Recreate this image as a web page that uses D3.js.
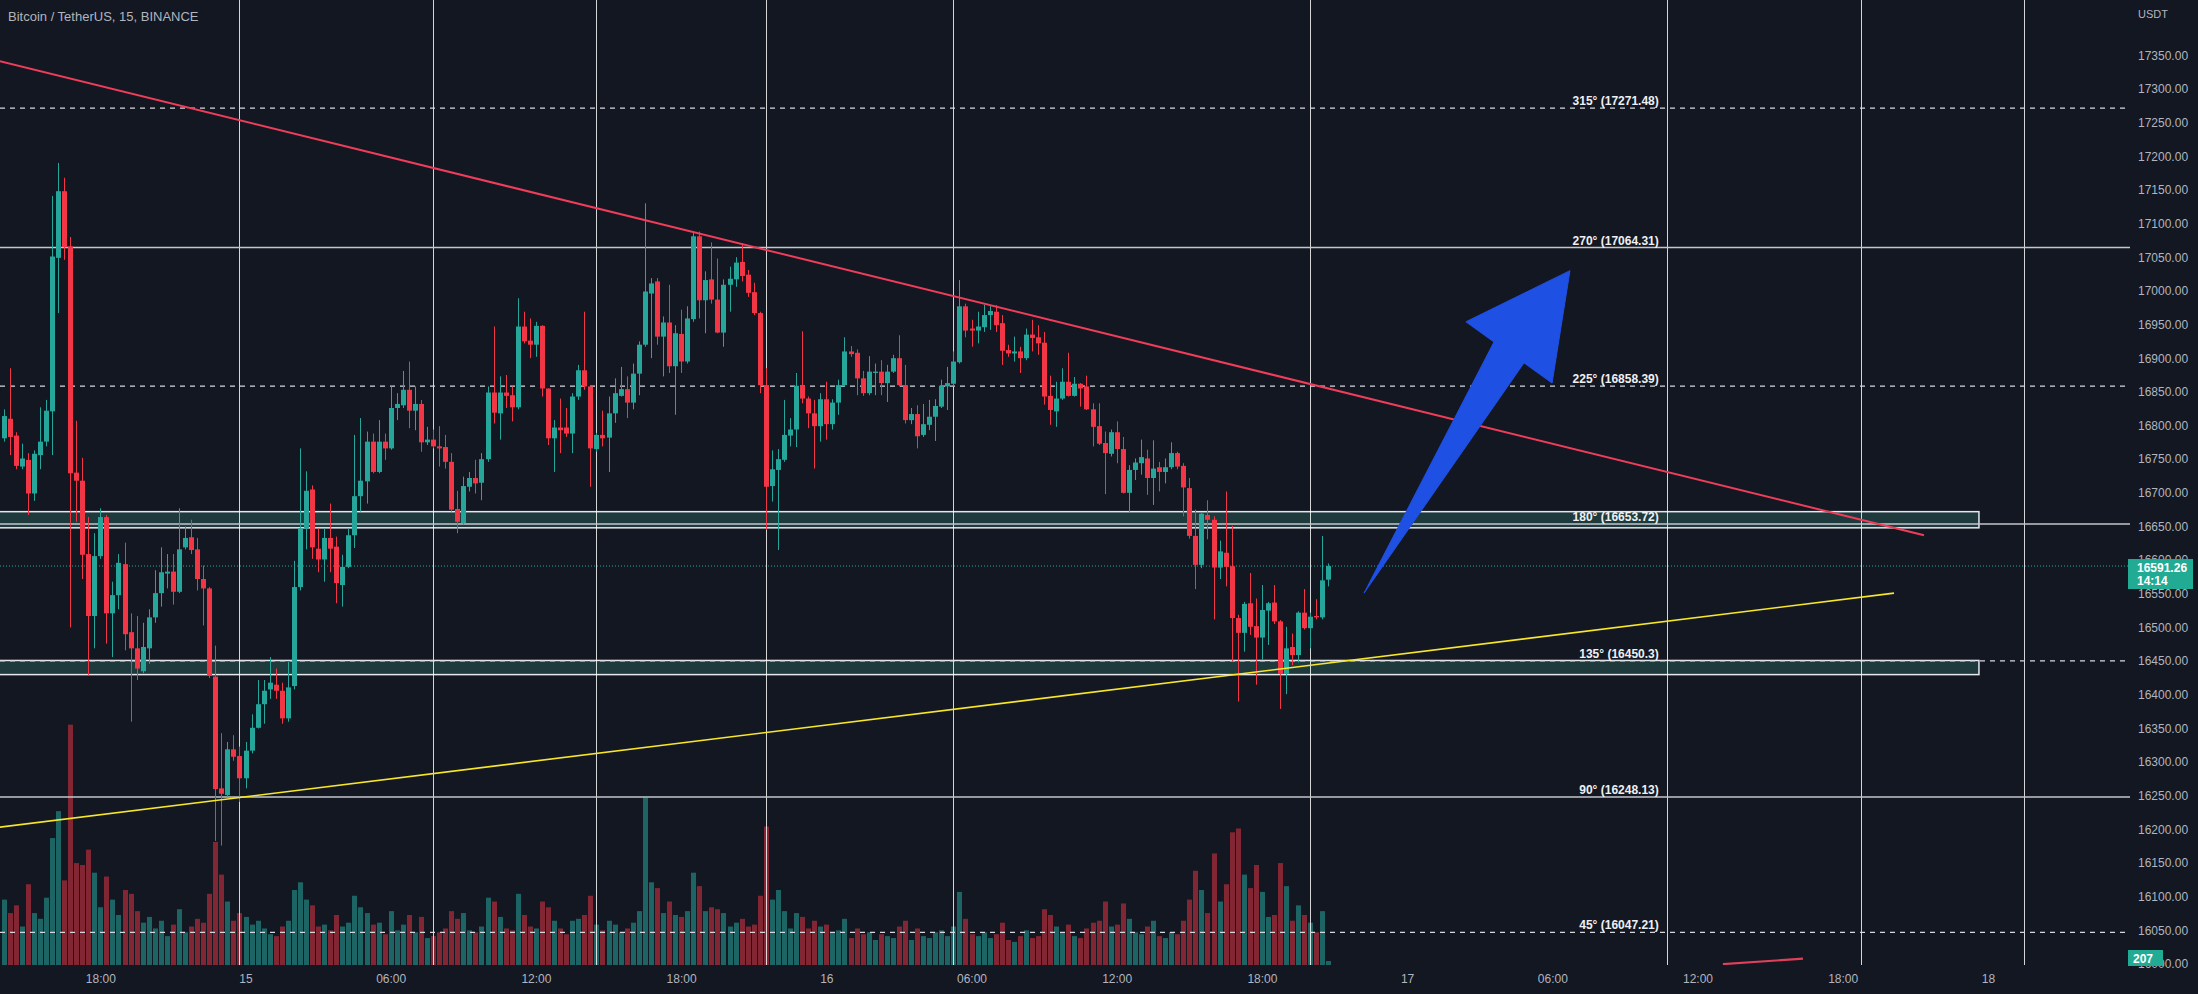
<!DOCTYPE html>
<html><head><meta charset="utf-8">
<script src="https://cdn.jsdelivr.net/npm/d3@7"></script>
<style>
html,body{margin:0;padding:0;background:#131722;overflow:hidden}
svg{display:block}
text{font-family:"Liberation Sans",Arial,sans-serif}
</style></head><body>
<svg id="chart" width="2198" height="994"></svg>
<script>
// ---- DATA (hours relative to 15 Dec 00:00, 15-minute bars) ----
const firstBarHour = -10.25;
const barStep = 0.25;
const open = [16793,16781,16810,16785,16739,16749,16699,16756,16776,16821,17049,17148,17066,16730,16718,16609,16517,16606,16664,16521,16548,16594,16493,16469,16435,16469,16515,16551,16580,16583,16553,16619,16634,16616,16572,16558,16427,16261,16251,16319,16309,16276,16317,16351,16386,16408,16415,16406,16365,16413,16560,16647,16705,16617,16601,16633,
16620,16563,16590,16637,16695,16717,16776,16731,16776,16766,16826,16830,16853,16822,16832,16775,16779,16769,16768,16746,16676,16655,16709,16722,16715,16750,16849,16818,16849,16845,16827,16947,16926,16920,16948,16855,16781,16797,16797,16788,16843,16882,16858,16765,16786,16782,16818,16844,16854,16834,16877,16920,16996,17014,16932,16953,16888,16936,16895,16958,17081,16986,17017,16987,16938,17009,17017,17043,17024,16998,16967,16860,16710,16734,16749,16785,16794,16859,16840,16818,16799,16839,16802,16834,16860,16910,16908,16870,16848,16878,16880,16863,16880,16900,16860,16808,16817,16786,16801,16813,16828,16858,16862,16894,16977,16944,16941,16946,16964,16969,16952,16912,16907,16910,16900,16935,16931,16923,16844,16821,16840,16865,16844,16862,16858,16824,16799,16774,16758,16790,16765,16700,16734,16744,16751,16722,16738,16731,16738,16759,16740,16707,16636,16593,16667,16660,16589,16611,16591,16514,16492,16536,16502,16485,16525,16537,16509,16431,16471,16459,16522,16499,16517,16515,16571];
const high = [16800,16824,16885,16790,16773,16759,16763,16827,16838,17141,17190,17168,17080,16807,16752,16664,16640,16677,16667,16568,16609,16626,16521,16517,16507,16527,16585,16619,16609,16609,16677,16650,16660,16633,16592,16560,16473,16343,16330,16340,16323,16330,16371,16422,16422,16456,16439,16418,16449,16599,16766,16732,16711,16647,16647,16684,
16635,16608,16647,16786,16811,16791,16788,16808,16788,16858,16848,16881,16895,16858,16838,16798,16794,16799,16786,16759,16703,16724,16731,16749,16759,16858,16947,16873,16875,16858,16989,16969,16959,16954,16949,16855,16808,16840,16826,16848,16890,16969,16858,16789,16822,16843,16870,16887,16873,16892,16925,17130,17019,17019,16962,17009,16949,16972,16977,17088,17088,17029,17072,17048,17017,17036,17050,17071,17031,17012,16969,16885,16763,16765,16838,16811,16878,16940,16843,16838,16848,16865,16839,16868,16931,16918,16913,16881,16903,16892,16897,16890,16905,16934,16890,16826,16830,16832,16838,16839,16868,16887,16910,17016,16981,16957,16969,16979,16978,16979,16964,16920,16932,16917,16944,16957,16949,16939,16874,16865,16885,16908,16872,16863,16874,16833,16833,16791,16794,16806,16783,16741,16751,16779,16764,16778,16746,16751,16775,16761,16744,16722,16675,16671,16689,16665,16629,16702,16651,16519,16538,16581,16543,16563,16538,16563,16511,16501,16491,16524,16557,16522,16542,16636,16595];
const low = [16773,16776,16756,16735,16735,16667,16688,16735,16769,16756,16967,17046,16500,16657,16572,16428,16469,16602,16476,16456,16527,16466,16360,16422,16432,16446,16507,16531,16558,16534,16551,16616,16609,16555,16503,16425,16183,16176,16248,16302,16241,16261,16313,16350,16357,16394,16394,16357,16360,16408,16555,16616,16602,16582,16568,16582,
16536,16531,16588,16618,16672,16684,16729,16729,16749,16764,16808,16826,16796,16793,16761,16771,16766,16739,16736,16672,16640,16652,16702,16699,16689,16746,16803,16779,16826,16806,16824,16922,16900,16902,16843,16771,16731,16759,16783,16759,16838,16853,16709,16761,16769,16731,16804,16843,16811,16824,16845,16917,16900,16920,16873,16878,16816,16878,16892,16954,16959,16937,16981,16937,16917,16969,17006,17014,16991,16964,16848,16645,16687,16615,16746,16769,16768,16833,16796,16736,16776,16779,16794,16816,16858,16902,16845,16844,16845,16845,16845,16835,16878,16858,16803,16802,16766,16783,16793,16777,16826,16823,16858,16892,16931,16917,16922,16939,16942,16939,16890,16902,16895,16878,16897,16910,16905,16831,16801,16798,16838,16843,16843,16828,16823,16769,16771,16698,16754,16744,16699,16671,16719,16727,16697,16682,16702,16714,16735,16735,16665,16632,16557,16588,16631,16512,16572,16561,16449,16390,16464,16489,16415,16452,16474,16505,16379,16401,16444,16448,16497,16469,16512,16512,16561];
const close = [16781,16814,16783,16740,16751,16699,16758,16776,16822,17051,17148,17065,16729,16718,16608,16517,16606,16664,16521,16548,16596,16490,16469,16439,16471,16515,16551,16582,16583,16553,16616,16633,16615,16572,16558,16428,16260,16253,16319,16308,16276,16317,16351,16386,16406,16418,16406,16365,16411,16560,16647,16703,16619,16601,16633,16617,
16566,16590,16637,16695,16718,16776,16731,16776,16766,16826,16832,16853,16822,16832,16775,16779,16769,16766,16746,16675,16657,16710,16722,16714,16750,16849,16819,16849,16844,16827,16947,16925,16920,16948,16855,16781,16797,16793,16788,16843,16882,16858,16766,16786,16781,16818,16848,16854,16834,16877,16920,16999,17011,16932,16953,16888,16937,16895,16959,17081,16986,17016,16987,16938,17009,17018,17042,17022,16997,16967,16860,16709,16735,16750,16786,16794,16859,16840,16818,16799,16839,16802,16834,16860,16910,16906,16870,16848,16880,16880,16863,16880,16900,16860,16808,16817,16784,16802,16813,16829,16859,16863,16895,16977,16941,16941,16947,16964,16970,16949,16911,16907,16910,16900,16935,16930,16922,16843,16823,16840,16865,16844,16862,16855,16824,16798,16773,16759,16790,16765,16700,16734,16745,16753,16722,16736,16731,16738,16759,16739,16708,16636,16593,16669,16660,16589,16613,16590,16514,16492,16535,16501,16485,16526,16536,16509,16431,16469,16459,16522,16499,16516,16515,16570,16591.26];
const volume = [2000,3400,2700,3100,2000,4200,2700,2400,3500,6600,8000,4400,12500,5300,5200,6000,4800,3000,4600,3400,2600,3900,3700,2800,2200,2500,1900,2300,1500,2100,2900,1700,2000,2400,2200,3700,6400,4700,3300,2300,2700,2500,2100,2300,1900,1600,1500,2000,2300,3900,4300,3400,3100,2000,2100,1800,
2600,2000,2200,3600,3000,2700,2100,2200,1600,2800,1800,2100,2600,1700,2500,1400,1500,1700,1900,2800,2400,2700,1800,1700,2000,3500,3300,2500,1900,1800,3700,2600,2000,1900,3300,3000,2300,1900,1600,2300,2400,2600,3600,2100,1800,2300,2100,1700,1900,2200,2800,8700,4300,4000,2700,3300,2600,2500,2800,4800,4100,2800,3000,2900,2700,2000,2200,2400,2000,2100,3600,7200,3400,3900,2800,1900,2700,2500,1900,2300,2000,2100,1700,1800,2400,1400,1900,1600,1700,1300,1600,1500,1400,2000,2300,1300,1900,1500,1400,1700,1800,1500,2000,3800,2400,1600,1500,1700,1400,1600,2200,1300,1200,1500,1800,1400,1500,2900,2600,2000,1700,2100,1500,1400,1900,2200,2300,3300,2000,2100,3200,2400,1700,1600,2000,2300,1500,1400,1700,1600,2300,3400,4900,3900,2700,5800,3300,4200,6900,7100,4700,4000,5200,3800,2500,2600,5300,4100,2300,3100,2600,2200,1700,2800,207];

const priceTicks = [17350,17300,17250,17200,17150,17100,17050,17000,16950,16900,16850,16800,16750,16700,16650,16600,16550,16500,16450,16400,16350,16300,16250,16200,16150,16100,16050,16000];
const timeTickHours = [-6,0,6,12,18,24,30,36,42,48,54,60,66,72];
const timeTickLabels = ["18:00","15","06:00","12:00","18:00","16","06:00","12:00","18:00","17","06:00","12:00","18:00","18"];

const levelAngles = ["315°","270°","225°","180°","135°","90°","45°"];
const levelPrices = [17271.48,17064.31,16858.39,16653.72,16450.3,16248.13,16047.21];
const levelPriceText = ["17271.48","17064.31","16858.39","16653.72","16450.3","16248.13","16047.21"];
const levelDashed = [true,false,true,false,true,false,true];
const levelLabelHour = 58.4;

const verticalLineHours = [-0.25,7.75,14.5,21.5,29.25,44,58.75,66.75,73.5];

const zoneTop = [16672,16451];
const zoneBottom = [16648,16430];
const zoneStartHour = -11, zoneEndHour = 71.63;

const redTrendHours = [-10.25,69.36];
const redTrendPrices = [17342,16637];
const yellowTrendHours = [-10.25,68.12];
const yellowTrendPrices = [16203,16551];
const arrowHours = [46.22,51.59,50.43,54.73,53.99,52.83];
const arrowPrices = [16551,16924,16954,17030,16863,16893];
const stubHours = [61.05,64.36];
const stubPrices = [16000,16008];

const lastPrice = 16591.26;
const countdown = "14:14";
const lastVolume = "207";
const title = "Bitcoin / TetherUS, 15, BINANCE";
const currency = "USDT";

// ---- CHART ----
const W = 2198, H = 994, plotW = 2130, plotH = 965;
const svg = d3.select("#chart");
const x = d3.scaleLinear().domain([-10.145, 77.872]).range([0, plotW]);
const y = d3.scaleLinear().domain([16000, 17350]).range([964.1, 55.2]);
const v = d3.scaleLinear().domain([0, 13000]).range([plotH, 715]);

const up = "#26a69a", down = "#f23645";
const bars = open.map((o, i) => ({t: firstBarHour + i * barStep, o, h: high[i], l: low[i], c: close[i], vol: volume[i]}));

svg.append("rect").attr("width", W).attr("height", H).attr("fill", "#131722");
svg.append("defs").append("clipPath").attr("id", "plot").append("rect").attr("width", plotW).attr("height", plotH);
const g = svg.append("g").attr("clip-path", "url(#plot)");

// zones
g.selectAll(".zone").data(zoneTop).join("rect")
  .attr("x", x(zoneStartHour)).attr("width", x(zoneEndHour) - x(zoneStartHour))
  .attr("y", d => y(d)).attr("height", (d, i) => y(zoneBottom[i]) - y(d))
  .attr("fill", "#1e3a3d").attr("stroke", "#e6e8ec").attr("stroke-width", 1.5);

// volume
const cx = t => Math.round(x(t));
g.selectAll(".vol").data(bars).join("rect")
  .attr("x", d => cx(d.t) - 2).attr("width", 5)
  .attr("y", d => v(d.vol)).attr("height", d => plotH - v(d.vol))
  .attr("fill", d => d.c >= d.o ? "rgba(38,166,154,0.55)" : "rgba(242,54,69,0.5)");

// vertical lines
g.selectAll(".vl").data(verticalLineHours).join("line")
  .attr("x1", d => cx(d) + 0.5).attr("x2", d => cx(d) + 0.5).attr("y1", 0).attr("y2", plotH)
  .attr("stroke", "rgba(255,255,255,0.82)").attr("stroke-width", 1);

// level lines
g.selectAll(".lvl").data(levelPrices).join("line")
  .attr("x1", 0).attr("x2", plotW).attr("y1", d => y(d)).attr("y2", d => y(d))
  .attr("stroke", (d, i) => levelDashed[i] ? "#d6d8de" : "#c4c6cc")
  .attr("stroke-width", (d, i) => levelDashed[i] ? 1.3 : 1.6)
  .attr("stroke-dasharray", (d, i) => levelDashed[i] ? "5,5" : null);

// current price line
g.append("line").attr("x1", 0).attr("x2", plotW).attr("y1", y(lastPrice)).attr("y2", y(lastPrice))
  .attr("stroke", "#26a69a").attr("stroke-width", 1).attr("stroke-dasharray", "1,2");

// candles
const cg = g.append("g");
cg.selectAll(".wick").data(bars).join("line")
  .attr("x1", d => cx(d.t) + 0.5).attr("x2", d => cx(d.t) + 0.5)
  .attr("y1", d => y(d.h)).attr("y2", d => y(d.l))
  .attr("stroke", d => d.c >= d.o ? up : down).attr("stroke-width", 1);
cg.selectAll(".body").data(bars).join("rect")
  .attr("x", d => cx(d.t) - 2).attr("width", 5)
  .attr("y", d => y(Math.max(d.o, d.c)))
  .attr("height", d => Math.max(1, Math.abs(y(d.o) - y(d.c))))
  .attr("fill", d => d.c >= d.o ? up : down);

// trend lines
const line = d3.line().x(d => x(d[0])).y(d => y(d[1]));
g.append("path").attr("d", line(d3.zip(redTrendHours, redTrendPrices)))
  .attr("stroke", "#ef3d5a").attr("stroke-width", 2).attr("fill", "none");
g.append("path").attr("d", line(d3.zip(yellowTrendHours, yellowTrendPrices)))
  .attr("stroke", "#f7e62a").attr("stroke-width", 1.6).attr("fill", "none");
g.append("path").attr("d", line(d3.zip(stubHours, stubPrices)))
  .attr("stroke", "#e0405a").attr("stroke-width", 2.2).attr("fill", "none");

// arrow
g.append("path").attr("d", line(d3.zip(arrowHours, arrowPrices)) + "Z")
  .attr("fill", "#1f50e4").attr("stroke", "#1f50e4").attr("stroke-width", 1).attr("stroke-linejoin", "round");

// level labels
g.selectAll(".lbl").data(levelPrices).join("text")
  .attr("x", x(levelLabelHour)).attr("y", d => y(d) - 3)
  .attr("text-anchor", "end").attr("fill", "#eef0f3")
  .attr("font-size", 12).attr("font-weight", "bold")
  .text((d, i) => levelAngles[i] + " (" + levelPriceText[i] + ")");

// title
svg.append("text").attr("x", 8).attr("y", 21).attr("fill", "#b2b5be").attr("font-size", 13).text(title);

// right axis
const ya = svg.append("g").attr("transform", `translate(${plotW + 6},0)`)
  .call(d3.axisRight(y).tickValues(priceTicks).tickFormat(d => d.toFixed(2)).tickSize(0).tickPadding(2));
ya.select(".domain").remove();
ya.selectAll("text").attr("fill", "#b2b5be").attr("font-size", 12).attr("font-family", "Liberation Sans, Arial, sans-serif");
svg.append("text").attr("x", 2138).attr("y", 18).attr("fill", "#b2b5be").attr("font-size", 11).text(currency);

// time axis
const xa = svg.append("g").attr("transform", `translate(0,${plotH})`)
  .call(d3.axisBottom(x).tickValues(timeTickHours).tickFormat((d, i) => timeTickLabels[i]).tickSize(0).tickPadding(9));
xa.select(".domain").remove();
xa.selectAll("text").attr("fill", "#b2b5be").attr("font-size", 12).attr("font-family", "Liberation Sans, Arial, sans-serif");

// last price badge
svg.append("rect").attr("x", 2128).attr("y", y(lastPrice) - 7).attr("width", 65).attr("height", 30).attr("fill", "#22ab94");
svg.append("text").attr("x", 2137).attr("y", y(lastPrice) + 6).attr("fill", "#fff").attr("font-size", 12).attr("font-weight", "bold").text(lastPrice.toFixed(2));
svg.append("text").attr("x", 2137).attr("y", y(lastPrice) + 19).attr("fill", "#fff").attr("font-size", 12).attr("font-weight", "bold").text(countdown);

// volume badge
svg.append("rect").attr("x", 2128).attr("y", 950).attr("width", 35).attr("height", 16).attr("fill", "#22ab94");
svg.append("text").attr("x", 2133).attr("y", 963).attr("fill", "#fff").attr("font-size", 12).attr("font-weight", "bold").text(lastVolume);
</script>
</body></html>
